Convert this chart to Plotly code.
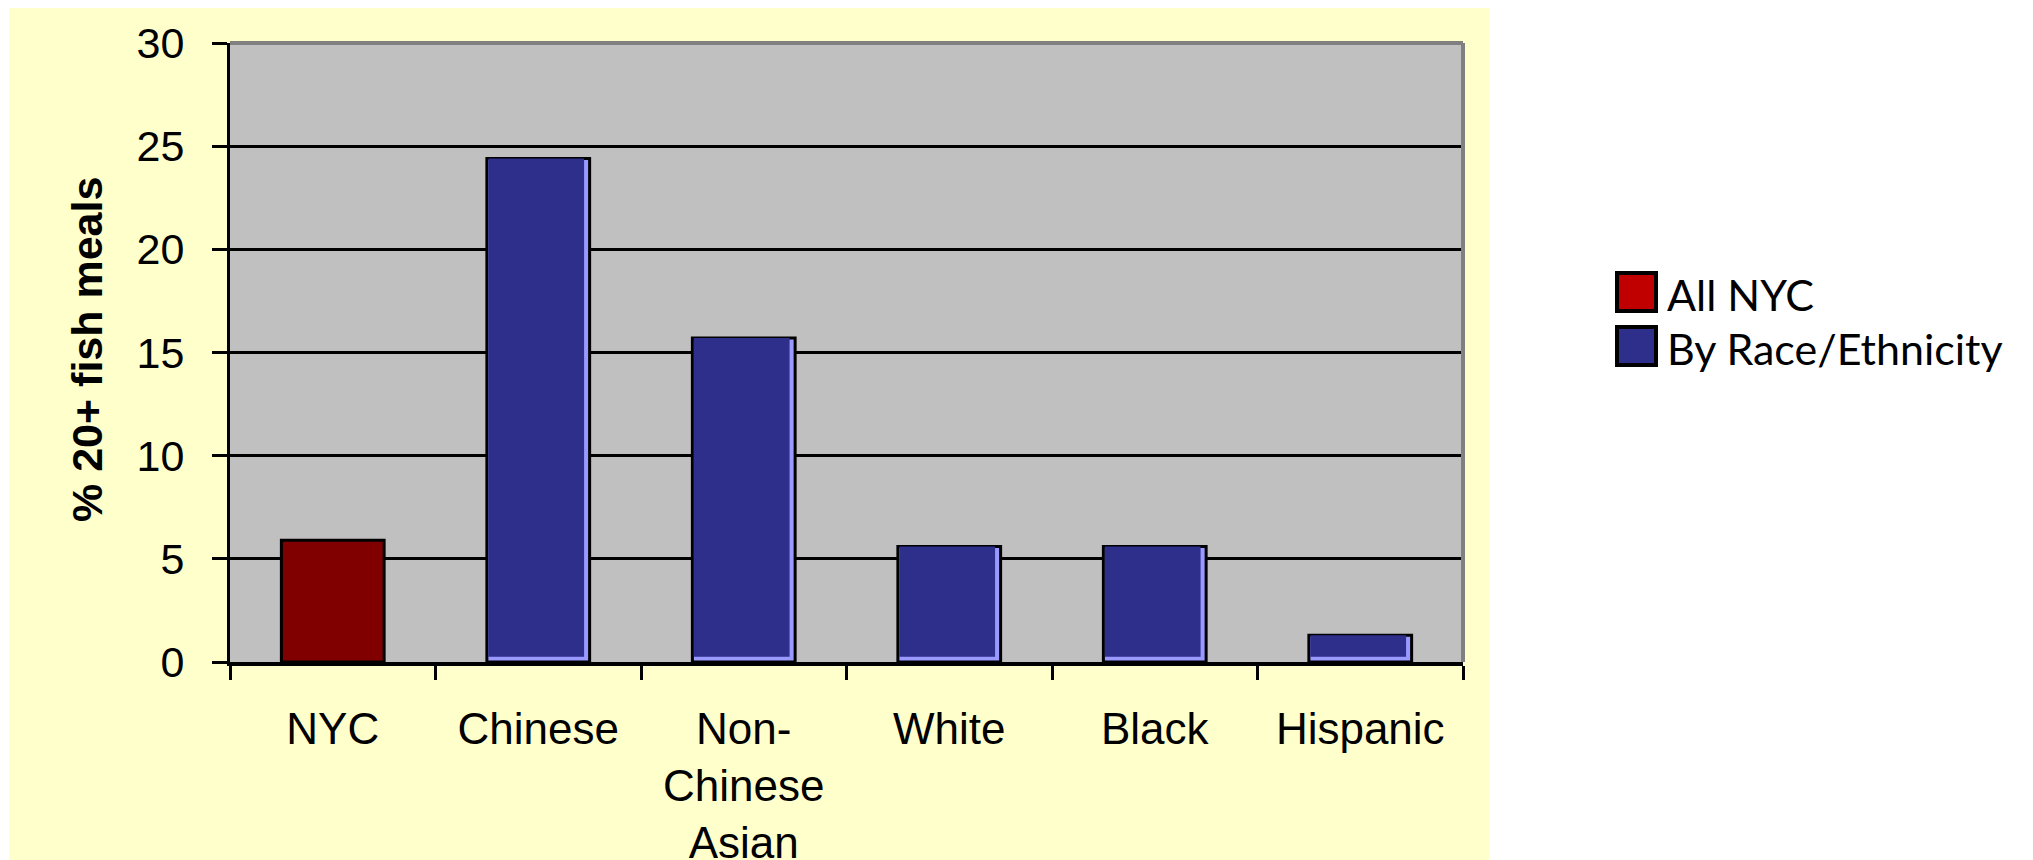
import plotly.graph_objects as go

categories = ["NYC", "Chinese", "Non-<br>Chinese<br>Asian", "White", "Black", "Hispanic"]
nyc_values = [5.9]
race_values = [24.4, 15.7, 5.6, 5.6, 1.3]
legend_names = ["All NYC", "By Race/Ethnicity"]
y_title = "% 20+ fish meals"
y_ticks = [0, 5, 10, 15, 20, 25, 30]

# the page body has an 8px margin, so page pixels are shifted by OFF
OFF = 8
FIG_W, FIG_H = 2033 - OFF, 860 - OFF
L, T, R, B = 230 - OFF, 43 - OFF, 1463 - OFF, 662 - OFF
W, H = R - L, B - T

def px(x):
    return (x - OFF - L) / W

def py(y):
    return (B - (y - OFF)) / H

depth = 0.25  # the light "3D" strip under the dark face

fig = go.Figure()

fig.add_trace(go.Bar(
    x=categories[:1], y=nyc_values, width=0.5,
    marker=dict(color="#800000", line=dict(color="black", width=3)),
    showlegend=False, hoverinfo="y",
))
fig.add_trace(go.Bar(
    x=categories[1:], y=race_values, width=0.5,
    marker=dict(color="#9999FF", line=dict(color="black", width=3)),
    showlegend=False, hoverinfo="y",
))
fig.add_trace(go.Bar(
    x=categories[1:], y=[v - depth for v in race_values], base=depth,
    width=0.466, offset=-0.243,
    marker=dict(color="#2E2E8B", line=dict(width=0)),
    showlegend=False, hoverinfo="skip",
))

shapes = [
    # yellow chart area
    dict(type="rect", xref="paper", yref="paper", layer="below",
         x0=px(9), x1=px(1489), y0=py(900), y1=py(8),
         fillcolor="#FFFFCC", line=dict(width=0)),
    # gray plot area
    dict(type="rect", xref="paper", yref="paper", layer="below",
         x0=0, x1=1, y0=0, y1=1,
         fillcolor="#C0C0C0", line=dict(width=0)),
    # top and right border
    dict(type="line", xref="paper", yref="paper", x0=0, x1=1, y0=1, y1=1,
         line=dict(color="#808080", width=4)),
    dict(type="line", xref="paper", yref="paper", x0=1, x1=1, y0=0, y1=1,
         line=dict(color="#808080", width=4)),
]

legend_colors = ["#C00000", "#2E2E8B"]
legend_rows = [292, 346]
annotations = []
for name, col, yc in zip(legend_names, legend_colors, legend_rows):
    shapes.append(dict(type="rect", xref="paper", yref="paper",
                       x0=px(1617), x1=px(1656), y0=py(yc + 19), y1=py(yc - 19),
                       fillcolor=col, line=dict(color="black", width=4)))
    annotations.append(dict(text=name, xref="paper", yref="paper",
                            x=px(1665), y=py(yc + 2), xanchor="left", yanchor="middle",
                            showarrow=False,
                            font=dict(family="Lato", size=43, color="black")))

annotations.append(dict(text="<b>" + y_title + "</b>", xref="paper", yref="paper",
                        x=px(87), y=py(350), textangle=-90,
                        xanchor="center", yanchor="middle", showarrow=False,
                        font=dict(family="Liberation Sans", size=43, color="black")))

fig.update_layout(
    width=FIG_W, height=FIG_H,
    margin=dict(l=L, r=FIG_W - R, t=T, b=FIG_H - B, autoexpand=False),
    paper_bgcolor="white",
    plot_bgcolor="rgba(0,0,0,0)",
    barmode="overlay",
    shapes=shapes,
    annotations=annotations,
    font=dict(family="Liberation Sans", size=42, color="black"),
    xaxis=dict(
        categoryorder="array", categoryarray=categories,
        showline=True, linecolor="black", linewidth=4,
        ticks="outside", tickson="boundaries", ticklen=14, tickwidth=3, tickcolor="black",
        ticklabelstandoff=25,
        tickfont=dict(family="Liberation Sans", size=44, color="black"),
        showgrid=False, fixedrange=True,
    ),
    yaxis=dict(
        range=[0, 30], tickvals=y_ticks,
        showline=True, linecolor="black", linewidth=3,
        ticks="outside", ticklen=15, tickwidth=3, tickcolor="black",
        ticklabelstandoff=19,
        tickfont=dict(family="Liberation Sans", size=43, color="black"),
        showgrid=True, gridcolor="black", gridwidth=3,
        zeroline=False, fixedrange=True,
    ),
)

fig.write_html("out.html")
